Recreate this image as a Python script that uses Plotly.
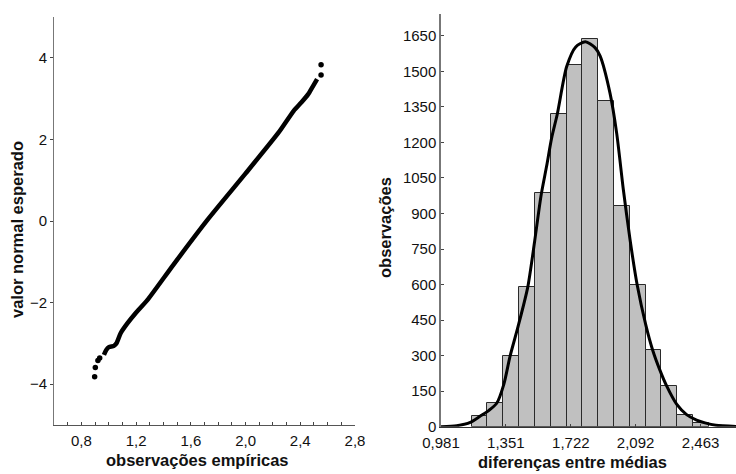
import plotly.graph_objects as go

# --- Normal probability plot (left panel) ---
# Dense body of the ordered sample, traced as a thick band
qq_body_x = [0.965, 0.982, 1.001, 1.038, 1.058, 1.087, 1.136, 1.196, 1.282, 1.471,
             1.720, 1.999, 2.242, 2.352, 2.409, 2.458, 2.490, 2.523]
qq_body_y = [-3.28, -3.16, -3.09, -3.06, -2.99, -2.75, -2.51, -2.26, -1.94, -1.08,
             0.02, 1.16, 2.17, 2.70, 2.91, 3.11, 3.29, 3.48]
# Isolated extreme observations in both tails
qq_tail_x = [0.897, 0.902, 0.921, 0.934, 2.552, 2.552]
qq_tail_y = [-3.82, -3.59, -3.42, -3.36, 3.58, 3.83]

qq_xticks = [0.8, 1.2, 1.6, 2.0, 2.4, 2.8]
qq_xtick_text = ["0,8", "1,2", "1,6", "2,0", "2,4", "2,8"]
qq_yticks = [-4, -2, 0, 2, 4]

# --- Histogram of mean differences (right panel) ---
bin_left = 1.156
bin_width = 0.0903
bin_counts = [44, 99, 297, 588, 985, 1320, 1525, 1635, 1373, 931, 597, 325, 172, 51, 17]

# Fitted normal curve, points along the drawn curve
fit_x = [0.981, 1.071, 1.148, 1.204, 1.253, 1.299, 1.340, 1.375, 1.420, 1.476,
         1.515, 1.552, 1.584, 1.613, 1.645, 1.698, 1.750, 1.805, 1.860, 1.889,
         1.946, 1.984, 2.022, 2.060, 2.101, 2.150, 2.189, 2.230, 2.269, 2.326,
         2.383, 2.440, 2.488, 2.550, 2.665]
fit_y = [0, 4, 18, 44, 68, 99, 180, 297, 420, 588,
         780, 975, 1100, 1220, 1320, 1519, 1603, 1625, 1600, 1565,
         1407, 1238, 1000, 790, 598, 430, 324, 240, 172, 95,
         51, 28, 16, 6, 1]

hist_xticks = [0.981, 1.351, 1.722, 2.092, 2.463]
hist_xtick_text = ["0,981", "1,351", "1,722", "2,092", "2,463"]
hist_yticks = [0, 150, 300, 450, 600, 750, 900, 1050, 1200, 1350, 1500, 1650]

bin_centers = [bin_left + bin_width * (i + 0.5) for i in range(len(bin_counts))]

FONT = "Liberation Sans, Arial, Helvetica, sans-serif"
W, H = 736, 474

fig = go.Figure()

fig.add_trace(go.Scatter(
    x=qq_body_x, y=qq_body_y, mode="lines",
    line=dict(color="black", width=4.5, shape="spline", smoothing=0.6),
    xaxis="x", yaxis="y", showlegend=False, hoverinfo="skip"))
fig.add_trace(go.Scatter(
    x=qq_tail_x, y=qq_tail_y, mode="markers",
    marker=dict(color="black", size=5.5),
    xaxis="x", yaxis="y", showlegend=False))

fig.add_trace(go.Bar(
    x=bin_centers, y=bin_counts, width=bin_width,
    marker=dict(color="#c0c0c0", line=dict(color="#2a2a2a", width=1)),
    xaxis="x2", yaxis="y2", showlegend=False))
fig.add_trace(go.Scatter(
    x=fit_x, y=fit_y, mode="lines",
    line=dict(color="black", width=3, shape="spline", smoothing=0.7),
    xaxis="x2", yaxis="y2", showlegend=False))

tickfont = dict(family=FONT, size=15, color="#111")
titlefont = dict(family=FONT, size=16.5, color="#111")

common = dict(showgrid=False, zeroline=False, tickfont=tickfont,
              automargin=False, fixedrange=True)

fig.update_layout(
    width=W, height=H,
    margin=dict(l=0, r=0, t=0, b=0, pad=0, autoexpand=False),
    paper_bgcolor="white", plot_bgcolor="white",
    bargap=0,
    xaxis=dict(
        domain=[54 / W, 355 / W], range=[0.6, 2.8],
        tickvals=qq_xticks, ticktext=qq_xtick_text,
        ticks="inside", ticklen=3, tickcolor="#444",
        minor=dict(dtick=0.1, tick0=0.6, ticks="inside", ticklen=3, tickcolor="#444"),
        showline=True, linecolor="#555", linewidth=1,
        anchor="y", ticklabelstandoff=2, **common),
    yaxis=dict(
        domain=[1 - 425 / H, 1 - 17 / H], range=[-5, 5],
        tickvals=qq_yticks,
        ticks="outside", ticklen=3, tickcolor="#444",
        showline=True, linecolor="#777", linewidth=1,
        anchor="x", **common),
    xaxis2=dict(
        domain=[441 / W, 1.0], range=[0.981, 2.665],
        tickvals=hist_xticks, ticktext=hist_xtick_text,
        ticks="inside", ticklen=3, tickcolor="#444",
        showline=True, linecolor="#333", linewidth=1,
        anchor="y2", ticklabelstandoff=2, **common),
    yaxis2=dict(
        domain=[1 - 426.7 / H, 1 - 14 / H], range=[0, 1742],
        tickvals=hist_yticks,
        ticks="inside", ticklen=3, tickcolor="#444",
        showline=True, linecolor="#777", linewidth=1.5,
        anchor="x2", **common),
)

def label(text, x, y, angle=0):
    fig.add_annotation(
        text=f"<b>{text}</b>", x=x / W, y=1 - y / H, xref="paper", yref="paper",
        showarrow=False, textangle=angle, font=titlefont,
        xanchor="center", yanchor="middle")

label("valor normal esperado", 17, 230, -90)
label("observações empíricas", 198, 460)
label("observações", 385, 228, -90)
label("diferenças entre médias", 572, 462)

fig.write_html("out.html")
